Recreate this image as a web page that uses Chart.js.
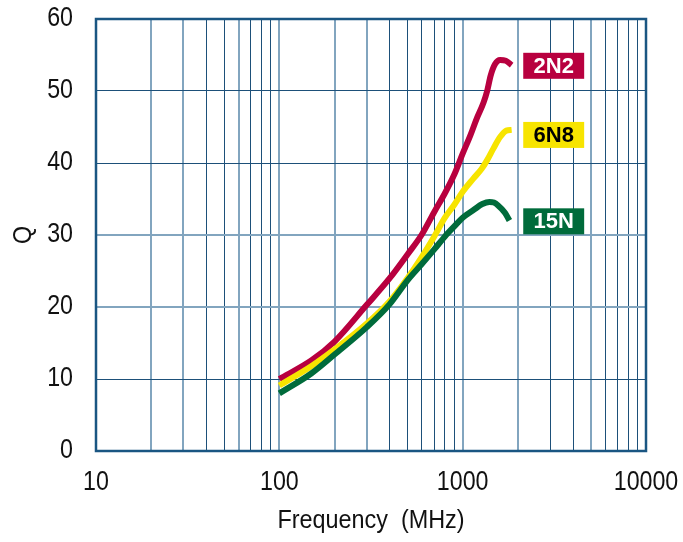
<!DOCTYPE html>
<html>
<head>
<meta charset="utf-8">
<script src="https://cdn.jsdelivr.net/npm/chart.js@4.4.1/dist/chart.umd.min.js"></script>
<style>
html,body{margin:0;padding:0;background:#ffffff;}
#wrap{width:683px;height:542px;}
</style>
</head>
<body>
<div id="wrap"><canvas id="c" width="683" height="542"></canvas></div>
<script>
// ---- data ----
const seriesNames = ['2N2', '6N8', '15N'];

const freq2N2 = [100, 150, 200, 300, 400, 500, 600, 700, 800, 900, 1000, 1100, 1190, 1300, 1360, 1420, 1500, 1600, 1720, 1850];
const q2N2    = [10.0, 12.6, 15.2, 20.3, 24.0, 27.3, 30.1, 33.2, 35.8, 38.4, 41.3, 43.8, 46.1, 48.4, 50.0, 52.1, 53.7, 54.3, 54.2, 53.6];

const freq6N8 = [100, 150, 200, 300, 400, 500, 600, 700, 800, 900, 1000, 1140, 1270, 1360, 1470, 1600, 1730, 1850];
const q6N8    = [9.1, 11.8, 14.1, 17.7, 20.8, 24.0, 27.0, 29.8, 32.4, 34.2, 36.0, 37.8, 39.2, 40.4, 42.0, 43.6, 44.5, 44.6];

const freq15N = [100, 150, 200, 300, 400, 500, 600, 700, 800, 900, 1000, 1150, 1280, 1400, 1480, 1560, 1700, 1800];
const q15N    = [8.0, 10.8, 13.4, 17.2, 20.4, 23.7, 26.0, 28.0, 29.8, 31.2, 32.4, 33.5, 34.3, 34.6, 34.5, 34.1, 33.1, 32.0];

const xTickLabels = [10, 100, 1000, 10000];
const yTickValues = [0, 10, 20, 30, 40, 50, 60];

// ---- styles / layout (not data) ----
const FONT = "'Liberation Sans', Arial, sans-serif";
const TICK_SIZE = 27, TITLE_SIZE = 26;
const squeeze = {27: 0.86, 26: 0.9};   // horizontal condensing per font size
const colors = ['#b8003f', '#f7e400', '#006b3b'];
const labelText = ['#ffffff', '#000000', '#ffffff'];
const labelAnchorQ = [53.5, 43.9, 31.9];     // vertical centre of the tag, in Q units
const labelFreqSpan = [2140, 4600];          // horizontal extent of the tags, in MHz
const GRID_DARK = '#1d5079', GRID_LIGHT = '#82a5bf';
const lightX = [20, 30, 60, 100, 200, 300, 1000, 2000, 5000];
const lightY = [20, 30];

const xGrid = [];
for (let d = 10; d < 10000; d *= 10) for (let m = 1; m <= 9; m++) xGrid.push(m * d);
xGrid.push(10000);

function pts(f, q) { return f.map((v, i) => ({x: v, y: q[i]})); }

const condensedText = {
  id: 'condensedText',
  beforeInit(chart) {
    const ctx = chart.ctx;
    if (ctx._origFillText) return;
    const orig = ctx.fillText.bind(ctx);
    ctx._origFillText = orig;
    ctx.fillText = function (t, x, y, mw) {
      const m = /(\d+(?:\.\d+)?)px/.exec(this.font);
      const k = m ? (squeeze[Math.round(parseFloat(m[1]))] || 1) : 1;
      this.save();
      this.translate(x, y);
      this.scale(k, 1);
      if (mw !== undefined) orig(t, 0, 0, mw / k); else orig(t, 0, 0);
      this.restore();
    };
  }
};

const frameAndTags = {
  id: 'frameAndTags',
  beforeDatasetsDraw(chart) {
    const {ctx, chartArea: a} = chart;
    ctx.save();
    ctx.strokeStyle = '#1a5682';
    ctx.lineWidth = 2.5;
    ctx.strokeRect(a.left, a.top, a.right - a.left, a.bottom - a.top);
    ctx.restore();
  },
  afterDraw(chart) {
    const {ctx} = chart;
    const xs = chart.scales.x, ys = chart.scales.y;
    const x0 = xs.getPixelForValue(labelFreqSpan[0]);
    const x1 = xs.getPixelForValue(labelFreqSpan[1]);
    const draw = ctx._origFillText || ctx.fillText.bind(ctx);
    ctx.save();
    seriesNames.forEach((n, i) => {
      const yc = ys.getPixelForValue(labelAnchorQ[i]);
      const h = 26;
      ctx.fillStyle = colors[i];
      ctx.fillRect(x0, yc - h / 2, x1 - x0, h);
      ctx.fillStyle = labelText[i];
      ctx.font = "bold 22px 'Liberation Sans', sans-serif";
      ctx.textAlign = 'center';
      ctx.textBaseline = 'middle';
      draw(n, (x0 + x1) / 2, yc + 1);
    });
    ctx.restore();
  }
};

const freqs = [freq2N2, freq6N8, freq15N];
const qs = [q2N2, q6N8, q15N];

function zeroPad(s) { s.paddingTop = 0; s.paddingBottom = 0; s.paddingLeft = 0; s.paddingRight = 0; }

new Chart(document.getElementById('c'), {
  type: 'line',
  data: {
    datasets: seriesNames.map((n, i) => ({
      label: n,
      data: pts(freqs[i], qs[i]),
      borderColor: colors[i],
      backgroundColor: colors[i],
      borderWidth: 6,
      borderCapStyle: 'butt',
      pointRadius: 0,
      fill: false,
      cubicInterpolationMode: 'monotone',
      order: 2 - i
    }))
  },
  options: {
    responsive: false,
    animation: false,
    devicePixelRatio: 1,
    layout: {padding: {left: 0, right: 37, top: 19, bottom: 0}},
    plugins: {legend: {display: false}, tooltip: {enabled: false}},
    scales: {
      x: {
        type: 'logarithmic', min: 10, max: 10000,
        afterBuildTicks: s => { s.ticks = xGrid.map(v => ({value: v})); },
        afterFit: s => { s.height = 91; zeroPad(s); },
        border: {display: false},
        grid: {
          drawTicks: false,
          color: c => lightX.includes(c.tick && c.tick.value) ? GRID_LIGHT : GRID_DARK,
          lineWidth: c => lightX.includes(c.tick && c.tick.value) ? 2 : 1
        },
        ticks: {
          autoSkip: false, maxRotation: 0, minRotation: 0, padding: 15,
          color: '#111111', font: {family: FONT, size: TICK_SIZE},
          callback: v => xTickLabels.includes(v) ? String(v) : ''
        },
        title: {
          display: true, text: 'Frequency  (MHz)', color: '#111111',
          font: {family: FONT, size: TITLE_SIZE}, padding: {top: 0, bottom: 6}
        }
      },
      y: {
        min: 0, max: 60,
        afterBuildTicks: s => { s.ticks = yTickValues.map(v => ({value: v})); },
        afterFit: s => { s.width = 96; zeroPad(s); },
        border: {display: false},
        grid: {
          drawTicks: false,
          color: c => lightY.includes(c.tick && c.tick.value) ? GRID_LIGHT : GRID_DARK,
          lineWidth: c => lightY.includes(c.tick && c.tick.value) ? 2 : 1
        },
        ticks: {padding: 23, color: '#111111', font: {family: FONT, size: TICK_SIZE}},
        title: {
          display: true, text: 'Q', color: '#111111',
          font: {family: FONT, size: TITLE_SIZE}, padding: {top: 8, bottom: 0}
        }
      }
    }
  },
  plugins: [condensedText, frameAndTags]
});
</script>
</body>
</html>
